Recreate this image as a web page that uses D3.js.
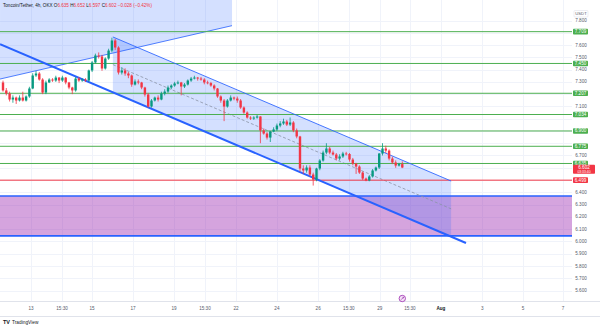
<!DOCTYPE html>
<html><head><meta charset="utf-8">
<script src="https://cdn.jsdelivr.net/npm/d3@7"></script>
<style>body{margin:0;background:#fff}svg{display:block;font-family:"Liberation Sans",Arial,sans-serif}</style>
</head><body><svg id="c" width="600" height="327"></svg>
<script>
// ---- data ----
const firstOpen = 7.295;
const closes = [7.230,7.205,7.156,7.172,7.148,7.172,7.148,7.181,7.246,7.352,
7.368,7.319,7.213,7.295,7.319,7.311,7.335,7.311,7.335,7.295,
7.254,7.230,7.327,7.311,7.319,7.311,7.393,7.458,7.515,7.507,
7.409,7.490,7.555,7.637,7.580,7.376,7.393,7.368,7.352,7.278,
7.303,7.295,7.254,7.197,7.099,7.148,7.172,7.156,7.205,7.221,
7.254,7.270,7.287,7.295,7.262,7.278,7.311,7.327,7.335,7.327,
7.319,7.295,7.290,7.270,7.246,7.181,7.148,7.099,7.148,7.172,
7.164,7.148,7.091,7.050,7.009,7.001,7.009,7.018,6.904,6.879,
6.846,6.895,6.912,6.944,6.961,6.977,6.952,6.969,6.904,6.855,
6.594,6.578,6.602,6.545,6.504,6.594,6.659,6.724,6.757,6.724,
6.708,6.675,6.692,6.716,6.712,6.667,6.634,6.610,6.561,6.512,
6.496,6.529,6.578,6.602,6.716,6.757,6.740,6.675,6.643,6.618,
6.630,6.602];
const highs = [7.31,7.25,7.22,7.19,7.18,7.19,7.22,7.19,7.26,7.37,
7.39,7.38,7.33,7.31,7.33,7.33,7.35,7.34,7.35,7.34,
7.30,7.26,7.34,7.34,7.33,7.33,7.40,7.47,7.53,7.54,
7.52,7.50,7.57,7.66,7.65,7.59,7.42,7.41,7.38,7.36,
7.32,7.32,7.30,7.26,7.21,7.16,7.18,7.19,7.22,7.24,
7.27,7.28,7.30,7.31,7.30,7.29,7.32,7.34,7.35,7.34,
7.34,7.33,7.31,7.30,7.28,7.25,7.19,7.16,7.16,7.19,
7.18,7.18,7.16,7.10,7.06,7.02,7.02,7.03,7.02,6.92,
6.89,6.90,6.93,6.96,6.98,7.00,6.99,7.01,6.98,6.92,
6.86,6.62,6.62,6.62,6.56,6.60,6.67,6.74,6.80,6.77,
6.74,6.72,6.71,6.73,6.73,6.72,6.68,6.64,6.62,6.57,
6.52,6.54,6.59,6.61,6.72,6.80,6.78,6.75,6.69,6.66,
6.64,6.652];
const lows = [7.22,7.19,7.14,7.13,7.12,7.14,7.14,7.14,7.17,7.24,
7.34,7.31,7.20,7.20,7.29,7.30,7.30,7.29,7.30,7.28,
7.24,7.20,7.22,7.30,7.30,7.30,7.30,7.38,7.45,7.49,
7.39,7.40,7.48,7.54,7.56,7.36,7.36,7.35,7.33,7.26,
7.27,7.28,7.24,7.18,7.09,7.09,7.14,7.14,7.15,7.19,
7.21,7.24,7.26,7.28,7.19,7.25,7.27,7.30,7.32,7.31,
7.31,7.28,7.28,7.26,7.23,7.17,7.13,6.98,7.09,7.14,
7.15,7.13,7.08,7.04,7.00,6.99,6.99,7.00,6.80,6.87,
6.83,6.81,6.89,6.90,6.93,6.95,6.94,6.94,6.89,6.84,
6.57,6.55,6.56,6.53,6.455,6.49,6.58,6.65,6.71,6.71,
6.70,6.66,6.66,6.68,6.70,6.65,6.62,6.55,6.55,6.50,
6.49,6.49,6.52,6.57,6.59,6.70,6.72,6.66,6.63,6.60,
6.61,6.597];
const priceTicks = [7.8,7.7,7.6,7.5,7.4,7.3,7.2,7.1,7.0,6.9,6.8,6.7,6.6,6.5,6.4,6.3,6.2,6.1,6.0,5.9,5.8,5.7,5.6];
const greenLevels = [7.709,7.450,7.207,7.034,6.900,6.775,6.635];
const redLevel = 6.499;
const lastPrice = 6.602;
const countdown = "03:33:40";
const timeLabels = ["13","15:30","15","17","19","15:30","22","24","26","15:30","29","15:30","Aug","3","5","7"];
const timeIndex = [8.5,17.9,27,39.4,51.8,61.2,70.6,83,95.5,104.8,114.2,123.3,132.7,145.2,157.6,169.7];
const zone = [6.370, 6.045];           // purple rectangle price range
const zoneBars = [-1, 173];
const descUpper = [[33.3,7.666],[135.8,6.492]];
const descLower = [[-0.9,7.608],[140.3,5.987]];
const ascLine = [[-0.9,7.323],[69.4,7.758]];
const header = {name:"Toncoin/Tether, 4h, OKX", o:"6.635", h:"6.652", l:"6.597", c:"6.602", chg:"\u22120.028 (\u22120.42%)"};

// ---- layout ----
const W=600,H=327, paneR=572, paneB=301;
const svg=d3.select("#c");
const x=d3.scaleLinear().domain([0,121]).range([3,402.3]);
const y=d3.scaleLinear().domain([5.6,7.8]).range([290.5,20.5]);
const opens=closes.map((c,i)=>i===0?firstOpen:closes[i-1]);
const UP="#089981", DN="#f23645", GREEN="#4caf50", BLUE="#2962ff";

svg.append("defs").append("clipPath").attr("id","pane").append("rect").attr("x",0).attr("y",0).attr("width",paneR).attr("height",paneB);
const pane=svg.append("g").attr("clip-path","url(#pane)");

// grid
pane.append("g").selectAll("line").data(priceTicks).join("line")
 .attr("x1",0).attr("x2",paneR).attr("y1",d=>Math.round(y(d))+0.5).attr("y2",d=>Math.round(y(d))+0.5)
 .attr("stroke","#f0f3fa").attr("stroke-width",1);
pane.append("g").selectAll("line").data(timeIndex).join("line")
 .attr("y1",0).attr("y2",paneB).attr("x1",d=>Math.round(x(d))+0.5).attr("x2",d=>Math.round(x(d))+0.5)
 .attr("stroke","#f0f3fa").attr("stroke-width",1);

// ascending channel fill (above line, clipped)
const a0=ascLine[0], a1=ascLine[1];
pane.append("path").attr("d",`M${x(a0[0])},${y(a0[1])}L${x(a1[0])},${y(a1[1])}L${x(a1[0])},${y(a1[1]+0.9)}L${x(a0[0])},${y(a0[1]+0.9)}Z`)
 .attr("fill","rgba(41,98,255,0.2)");
pane.append("line").attr("x1",x(a0[0])).attr("y1",y(a0[1])).attr("x2",x(a1[0])).attr("y2",y(a1[1])).attr("stroke",BLUE).attr("stroke-width",1).attr("opacity",0.8);

// purple zone
pane.append("rect").attr("x",x(zoneBars[0])).attr("width",x(zoneBars[1])-x(zoneBars[0]))
 .attr("y",y(zone[0])).attr("height",y(zone[1])-y(zone[0])).attr("fill","rgba(156,39,176,0.42)");

// descending channel fill
const lineAt=(seg,b)=>seg[0][1]+(seg[1][1]-seg[0][1])*(b-seg[0][0])/(seg[1][0]-seg[0][0]);
const b0=descUpper[0][0], b1=descUpper[1][0];
pane.append("path").attr("d",`M${x(b0)},${y(lineAt(descUpper,b0))}L${x(b1)},${y(lineAt(descUpper,b1))}L${x(b1)},${y(lineAt(descLower,b1))}L${x(b0)},${y(lineAt(descLower,b0))}Z`)
 .attr("fill","rgba(41,98,255,0.2)");

[zone[0],zone[1]].forEach(v=>pane.append("line").attr("x1",x(zoneBars[0])).attr("x2",x(zoneBars[1])).attr("y1",y(v)).attr("y2",y(v)).attr("stroke",BLUE).attr("stroke-width",1.6));

// mid dashed
pane.append("line").attr("x1",x(b0)).attr("y1",y((lineAt(descUpper,b0)+lineAt(descLower,b0))/2))
 .attr("x2",x(b1)).attr("y2",y((lineAt(descUpper,b1)+lineAt(descLower,b1))/2))
 .attr("stroke","#8a93a6").attr("stroke-width",0.8).attr("stroke-dasharray","3,2");

// horizontal levels
pane.append("g").selectAll("line").data(greenLevels).join("line")
 .attr("x1",0).attr("x2",paneR).attr("y1",d=>y(d)).attr("y2",d=>y(d)).attr("stroke",GREEN).attr("stroke-width",1);
pane.append("line").attr("x1",0).attr("x2",paneR).attr("y1",y(redLevel)).attr("y2",y(redLevel)).attr("stroke",DN).attr("stroke-width",1);

// channel lines
pane.append("line").attr("x1",x(descUpper[0][0])).attr("y1",y(descUpper[0][1])).attr("x2",x(descUpper[1][0])).attr("y2",y(descUpper[1][1])).attr("stroke",BLUE).attr("stroke-width",1).attr("opacity",0.85);
pane.append("line").attr("x1",x(descLower[0][0])).attr("y1",y(descLower[0][1])).attr("x2",x(descLower[1][0])).attr("y2",y(descLower[1][1])).attr("stroke",BLUE).attr("stroke-width",2);

// candles
const cg=pane.append("g");
closes.forEach((c,i)=>{
  const o=opens[i], col=c>=o?UP:DN, cx=x(i);
  cg.append("line").attr("x1",cx).attr("x2",cx).attr("y1",y(highs[i])).attr("y2",y(lows[i])).attr("stroke",col).attr("stroke-width",0.8);
  const top=y(Math.max(o,c)), bot=y(Math.min(o,c));
  cg.append("rect").attr("x",cx-1.2).attr("width",2.4).attr("y",top).attr("height",Math.max(0.8,bot-top)).attr("fill",col);
});

// borders
svg.append("line").attr("x1",0).attr("x2",W).attr("y1",paneB+0.5).attr("y2",paneB+0.5).attr("stroke","#e0e3eb");
svg.append("line").attr("x1",0).attr("x2",W).attr("y1",316.5).attr("y2",316.5).attr("stroke","#e0e3eb");

// price axis (tick labels hidden where a level label covers them)
const fs=4.6;
const boxed=[...greenLevels,redLevel,lastPrice];
const visTicks=priceTicks.filter(t=>boxed.every(b=>Math.abs(y(t)-y(b))>(b===lastPrice?7:4.5)));
svg.append("g").selectAll("text").data(visTicks).join("text")
 .attr("x",581).attr("y",d=>y(d)+1.6).attr("text-anchor","middle").attr("font-size",fs).attr("fill","#555b6b")
 .text(d=>d3.format(".3f")(d));
function box(v,fill,lines){
  const h=lines.length>1?9:5.6, yy=y(v)-2.8;
  svg.append("rect").attr("x",573).attr("y",yy).attr("width",lines.length>1?22:15).attr("height",h).attr("rx",0.8).attr("fill",fill);
  lines.forEach((t,k)=>svg.append("text").attr("x",lines.length>1?584:580.5).attr("y",yy+4.3+k*3.8).attr("text-anchor","middle")
   .attr("font-size",k?3.4:fs).attr("fill","#fff").text(t));
}
greenLevels.forEach(v=>box(v,GREEN,[d3.format(".3f")(v)]));
box(redLevel,DN,[d3.format(".3f")(redLevel)]);
box(lastPrice,DN,[d3.format(".3f")(lastPrice),countdown]);
svg.append("rect").attr("x",574).attr("y",10.5).attr("width",14).attr("height",6.5).attr("rx",1).attr("fill","#fff").attr("stroke","#e0e3eb").attr("stroke-width",0.6);
svg.append("text").attr("x",581).attr("y",15.3).attr("text-anchor","middle").attr("font-size",4.2).attr("fill","#555b6b").text("USDT");

// time axis
svg.append("g").selectAll("text").data(timeLabels).join("text")
 .attr("x",(d,i)=>x(timeIndex[i])).attr("y",310).attr("text-anchor","middle").attr("font-size",fs)
 .attr("fill",d=>d==="Aug"?"#131722":"#555b6b").attr("font-weight",d=>d==="Aug"?"bold":"normal").text(d=>d);

// event marker
const ev=svg.append("g").attr("transform",`translate(${x(121)},298.5)`);
ev.append("circle").attr("r",3.2).attr("fill","#f3e5f5").attr("stroke","#9c27b0").attr("stroke-width",0.8);
ev.append("path").attr("d","M-1.2,1.2L1.2,-1.2M0.2,-1.2H1.2V-0.2").attr("stroke","#9c27b0").attr("stroke-width",0.7).attr("fill","none");

// header
const ht=svg.append("text").attr("x",3).attr("y",7).attr("font-size",4.6).attr("fill","#131722");
ht.append("tspan").text(header.name+"  ");
[["O",header.o],["H",header.h],["L",header.l],["C",header.c]].forEach(([k,v])=>{
  ht.append("tspan").attr("fill","#131722").text(k);
  ht.append("tspan").attr("fill",DN).text(v+" ");
});
ht.append("tspan").attr("fill",DN).text(header.chg);

// footer logo
svg.append("text").attr("x",3).attr("y",324).attr("font-size",5.5).attr("font-weight","bold").attr("fill","#131722").text("TV");
svg.append("text").attr("x",12).attr("y",324).attr("font-size",4.8).attr("fill","#131722").text("TradingView");
</script></body></html>
